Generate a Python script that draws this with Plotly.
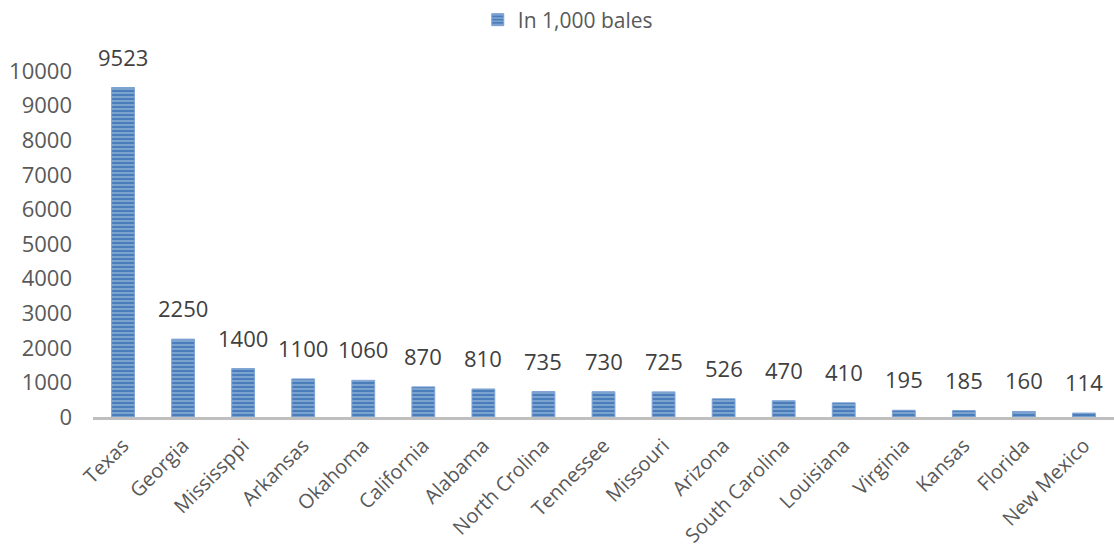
import plotly.graph_objects as go

states = ["Texas", "Georgia", "Mississppi", "Arkansas", "Okahoma", "California", "Alabama",
          "North Crolina", "Tennessee", "Missouri", "Arizona", "South Carolina", "Louisiana",
          "Virginia", "Kansas", "Florida", "New Mexico"]
bales = [9523, 2250, 1400, 1100, 1060, 870, 810, 735, 730, 725, 526, 470, 410, 195, 185, 160, 114]
y_ticks = [0, 1000, 2000, 3000, 4000, 5000, 6000, 7000, 8000, 9000, 10000]

fig = go.Figure(go.Bar(
    x=states, y=bales, name="In 1,000 bales",
    width=0.38,
    marker=dict(color="#4a7ebb", line=dict(color="#7da2d4", width=1),
                pattern=dict(shape="-", fgcolor="#d9e4f2", bgcolor="#4a7ebb", size=4, solidity=0.35)),
    cliponaxis=False,
))

for s, v in zip(states, bales):
    fig.add_annotation(x=s, y=v, text=str(v), showarrow=False, yanchor="bottom",
                       yshift=14, font=dict(size=22, color="#404040"))

fig.update_layout(
    width=1114, height=553,
    margin=dict(l=93, r=0, t=71, b=136, autoexpand=False),
    paper_bgcolor="white", plot_bgcolor="white",
    font=dict(family="Open Sans, Liberation Sans, sans-serif", color="#595959", size=20),
    showlegend=True,
    legend=dict(orientation="h", x=0.465, xanchor="center", yref="container",
                y=1 - 20 / 553, yanchor="middle",
                font=dict(size=21, color="#595959")),
)
fig.update_xaxes(tickangle=-45, showline=True, linecolor="#bfbfbf", linewidth=3,
                 ticks="", automargin=False, ticklabelstandoff=6,
                 tickfont=dict(size=20, color="#595959"))
fig.update_yaxes(range=[0, 10000], tickvals=y_ticks, tickformat="d", showgrid=False,
                 zeroline=False, automargin=False, ticklabelstandoff=20,
                 showline=False, ticks="", tickfont=dict(size=22, color="#595959"))

fig.write_html("out.html")
